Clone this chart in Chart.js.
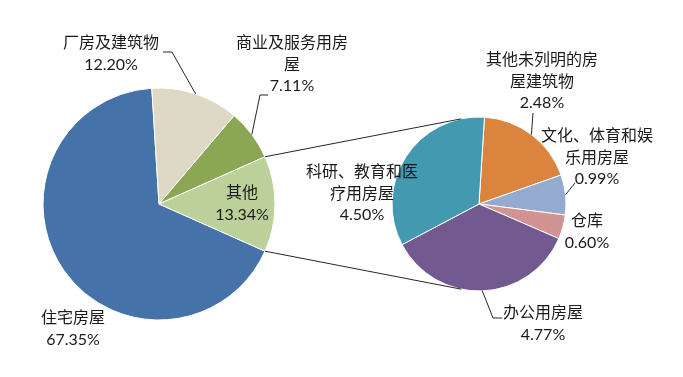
<!DOCTYPE html>
<html>
<head>
<meta charset="utf-8">
<script src="https://cdn.jsdelivr.net/npm/chart.js@4.4.0/dist/chart.umd.min.js"></script>
<style>
html, body { margin: 0; padding: 0; background: #fff; }
#wrap { position: relative; width: 683px; height: 377px; }
#wrap canvas { position: absolute; left: 0; top: 0; }
</style>
</head>
<body>
<div id="wrap">
  <canvas id="mainPie" width="683" height="377"></canvas>
  <canvas id="subPie" width="683" height="377"></canvas>
</div>
<script>
// 主饼图
const mainLabels = ['住宅房屋', '厂房及建筑物', '商业及服务用房屋', '其他'];
const mainValues = [67.35, 12.20, 7.11, 13.34];
const mainColors = ['#4572A8', '#DDD9C4', '#8BA753', '#BCD09A'];
const mainLabelLines = [['住宅房屋'], ['厂房及建筑物'], ['商业及服务用房', '屋'], ['其他']];

// 子饼图（“其他”拆分）
const subLabels = ['其他未列明的房屋建筑物', '文化、体育和娱乐用房屋', '仓库', '办公用房屋', '科研、教育和医疗用房屋'];
const subValues = [2.48, 0.99, 0.60, 4.77, 4.50];
const subColors = ['#DA843E', '#94AACF', '#D19493', '#72598F', '#4299B0'];
const subLabelLines = [['其他未列明的房', '屋建筑物'], ['文化、体育和娱', '乐用房屋'], ['仓库'], ['办公用房屋'], ['科研、教育和医', '疗用房屋']];

const FONT = "16px Lato, 'Noto Sans CJK SC', sans-serif";
const TEXT_COLOR = '#1a1a1a';

// 标签位置 [x, 第一行 y]，引线折点
const mainLabelPos = [[73, 318], [111, 43], [292, 43], [242, 193]];
const mainLeaders = [null, [[172, 52], [163, 52]], [[260, 95], [268, 95]], null];
const subLabelPos = [[542, 60], [597, 136], [587, 221], [543, 313], [362, 172]];
const subLeaders = [[[533, 113]], [[575, 183]], null, [[493, 318], [502, 318]], null];

function midPoint(arc) {
    const a = (arc.startAngle + arc.endAngle) / 2;
    return [arc.x + arc.outerRadius * Math.cos(a), arc.y + arc.outerRadius * Math.sin(a)];
}

function drawLabels(chart, lines, values, pos, leaders) {
    const ctx = chart.ctx;
    const arcs = chart.getDatasetMeta(0).data;
    ctx.save();
    ctx.strokeStyle = '#262626';
    ctx.lineWidth = 1;
    arcs.forEach((arc, i) => {
        const lead = leaders[i];
        if (!lead) return;
        const p = midPoint(arc);
        ctx.beginPath();
        ctx.moveTo(p[0], p[1]);
        lead.forEach(q => ctx.lineTo(q[0], q[1]));
        ctx.stroke();
    });
    ctx.font = FONT;
    ctx.fillStyle = TEXT_COLOR;
    ctx.textAlign = 'center';
    ctx.textBaseline = 'middle';
    arcs.forEach((arc, i) => {
        const [x, y] = pos[i];
        const all = lines[i].concat([values[i].toFixed(2) + '%']);
        all.forEach((t, k) => ctx.fillText(t, x, y + k * 21.5));
    });
    ctx.restore();
}

const mainLabelPlugin = {
    id: 'mainLabels',
    afterDraw(chart) {
        drawLabels(chart, mainLabelLines, mainValues, mainLabelPos, mainLeaders);
    }
};

let mainChart;

const subLabelPlugin = {
    id: 'subLabels',
    afterDraw(chart) {
        // 连接线
        const other = mainChart.getDatasetMeta(0).data[3];
        const sub = chart.getDatasetMeta(0).data[0];
        const off = 11.8 * Math.PI / 180;
        const ctx = chart.ctx;
        ctx.save();
        ctx.strokeStyle = '#262626';
        ctx.lineWidth = 1;
        const ends = [
            [other.startAngle, -Math.PI / 2 - off],
            [other.endAngle, Math.PI / 2 + off]
        ];
        ends.forEach(([a, b]) => {
            ctx.beginPath();
            ctx.moveTo(other.x + other.outerRadius * Math.cos(a), other.y + other.outerRadius * Math.sin(a));
            ctx.lineTo(sub.x + sub.outerRadius * Math.cos(b), sub.y + sub.outerRadius * Math.sin(b));
            ctx.stroke();
        });
        ctx.restore();
        drawLabels(chart, subLabelLines, subValues, subLabelPos, subLeaders);
    }
};

mainChart = new Chart(document.getElementById('mainPie'), {
    type: 'pie',
    data: {
        labels: mainLabels,
        datasets: [{
            data: mainValues,
            backgroundColor: mainColors,
            borderColor: '#ffffff',
            borderWidth: 1
        }]
    },
    options: {
        responsive: false,
        animation: false,
        rotation: 114,
        radius: 116,
        layout: { padding: { left: 43, top: 88, right: 408, bottom: 57 } },
        plugins: { legend: { display: false }, tooltip: { enabled: false } }
    },
    plugins: [mainLabelPlugin]
});

new Chart(document.getElementById('subPie'), {
    type: 'pie',
    data: {
        labels: subLabels,
        datasets: [{
            data: subValues,
            backgroundColor: subColors,
            borderColor: '#ffffff',
            borderWidth: 1
        }]
    },
    options: {
        responsive: false,
        animation: false,
        rotation: 3.6,
        radius: 87,
        layout: { padding: { left: 392, top: 117, right: 117, bottom: 86 } },
        plugins: { legend: { display: false }, tooltip: { enabled: false } }
    },
    plugins: [subLabelPlugin]
});
</script>
</body>
</html>
